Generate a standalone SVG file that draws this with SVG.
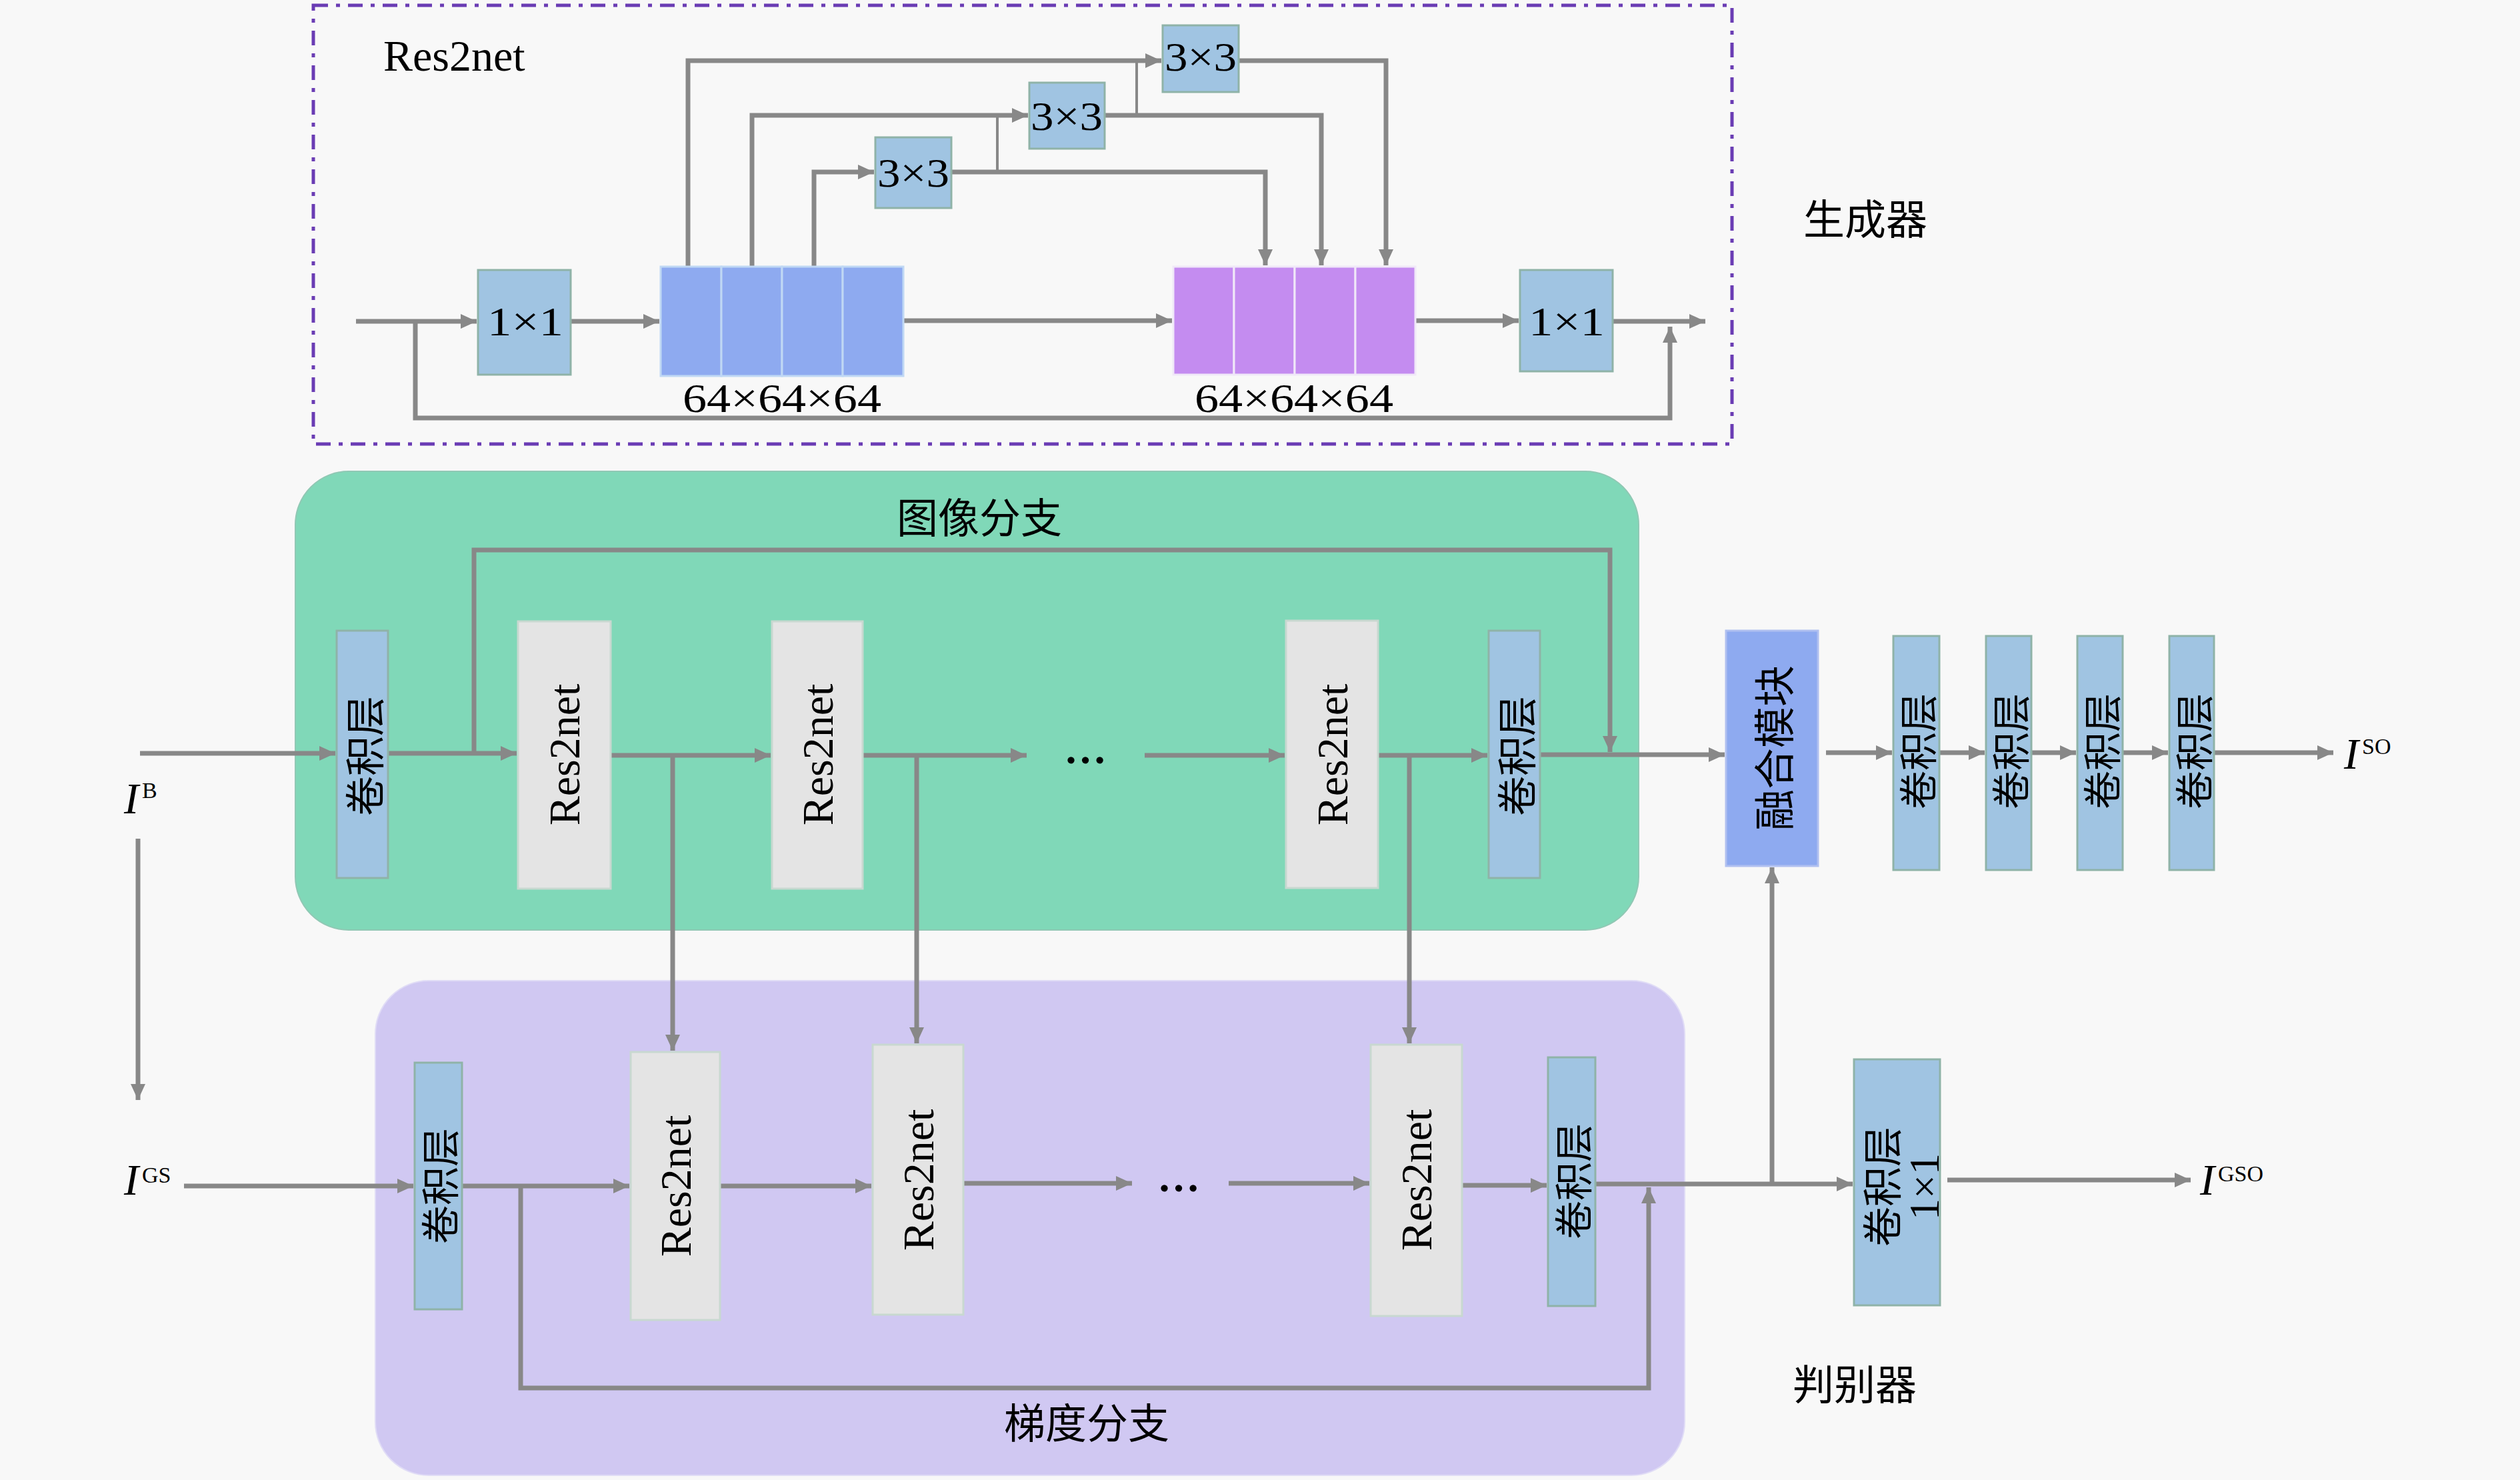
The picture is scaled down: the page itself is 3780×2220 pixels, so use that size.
<svg xmlns="http://www.w3.org/2000/svg" width="3780" height="2220" viewBox="0 0 3780 2220">
<style>
.ln{fill:none;stroke:#888;stroke-width:7}
.th{fill:none;stroke:#888;stroke-width:4}
.conv{fill:#a0c4e2;stroke:#8fb3a8;stroke-width:3}
.res{fill:#e4e4e4;stroke:#c8d8d0;stroke-width:3}
.blue{fill:#8eaaf0;stroke:#c0d8f4;stroke-width:3}
.purp{fill:#c48cf0;stroke:#f0e8f8;stroke-width:3}
.t{font-family:"Liberation Serif","Noto Sans CJK SC",serif;fill:#000}
.c{font-family:"Noto Sans CJK SC","Liberation Serif",sans-serif;fill:#000}
.m{text-anchor:middle}
.r{text-anchor:middle;dominant-baseline:central}
</style>
<defs>
<marker id="ah" markerUnits="userSpaceOnUse" markerWidth="26" markerHeight="22" refX="24" refY="11" orient="auto">
<path d="M0,0 L24,11 L0,22 z" fill="#888"/>
</marker>
</defs>
<rect width="3780" height="2220" fill="#f8f8f8"/>

<!-- panels -->
<g id="generator-box">
<rect x="470" y="8" width="2128" height="658" fill="none" stroke="#6a3cb4" stroke-width="5" stroke-dasharray="22 12 6 12"/>
<text class="t" x="575" y="106" font-size="66">Res2net</text>
</g>
<g id="image-branch">
<rect x="443" y="707" width="2015" height="688" rx="80" fill="#80d8b8" stroke="#90c8b4" stroke-width="2"/>
<text class="c m" x="1469" y="800" font-size="62">图像分支</text>
</g>
<g id="gradient-branch">
<rect x="563" y="1471" width="1964" height="742" rx="80" fill="#d0c8f2" stroke="#e0dcf6" stroke-width="2"/>
<text class="c m" x="1630" y="2158" font-size="62">梯度分支</text>
</g>
<text class="c" x="2705" y="352" font-size="62">生成器</text>
<text class="c" x="2689" y="2100" font-size="62">判别器</text>

<!-- connectors -->
<g id="connectors">
<path class="ln" d="M534,482 H715" marker-end="url(#ah)"/>
<path class="ln" d="M623,482 V627 H2505 V490" marker-end="url(#ah)"/>
<path class="ln" d="M856,482 H989" marker-end="url(#ah)"/>
<path class="ln" d="M1355,481 H1758" marker-end="url(#ah)"/>
<path class="ln" d="M2123,481 H2278" marker-end="url(#ah)"/>
<path class="ln" d="M2419,482 H2558" marker-end="url(#ah)"/>
<path class="ln" d="M1032,400 V91 H1742" marker-end="url(#ah)"/>
<path class="ln" d="M1128,400 V173 H1542" marker-end="url(#ah)"/>
<path class="ln" d="M1221,400 V258 H1311" marker-end="url(#ah)"/>
<path class="ln" d="M1427,258 H1898 V398" marker-end="url(#ah)"/>
<path class="th" d="M1496,258 V173"/>
<path class="ln" d="M1657,173 H1982 V398" marker-end="url(#ah)"/>
<path class="th" d="M1705,173 V91"/>
<path class="ln" d="M1858,91 H2079 V398" marker-end="url(#ah)"/>
<path class="ln" d="M210,1130 H503" marker-end="url(#ah)"/>
<path class="ln" d="M582,1130 H775" marker-end="url(#ah)"/>
<path class="ln" d="M711,1130 V825 H2415 V1128" marker-end="url(#ah)"/>
<path class="ln" d="M916,1133 H1156" marker-end="url(#ah)"/>
<path class="ln" d="M1294,1133 H1540" marker-end="url(#ah)"/>
<path class="ln" d="M1717,1133 H1927" marker-end="url(#ah)"/>
<path class="ln" d="M2067,1133 H2231" marker-end="url(#ah)"/>
<path class="ln" d="M2310,1132 H2587" marker-end="url(#ah)"/>
<path class="ln" d="M1009,1133 V1576" marker-end="url(#ah)"/>
<path class="ln" d="M1375,1133 V1565" marker-end="url(#ah)"/>
<path class="ln" d="M2114,1133 V1565" marker-end="url(#ah)"/>
<path class="ln" d="M2739,1129 H2838" marker-end="url(#ah)"/>
<path class="ln" d="M2909,1129 H2977" marker-end="url(#ah)"/>
<path class="ln" d="M3047,1129 H3114" marker-end="url(#ah)"/>
<path class="ln" d="M3184,1129 H3252" marker-end="url(#ah)"/>
<path class="ln" d="M3321,1129 H3500" marker-end="url(#ah)"/>
<path class="ln" d="M207,1258 V1650" marker-end="url(#ah)"/>
<path class="ln" d="M276,1779 H620" marker-end="url(#ah)"/>
<path class="ln" d="M693,1779 H944" marker-end="url(#ah)"/>
<path class="ln" d="M781,1779 V2082 H2473 V1781" marker-end="url(#ah)"/>
<path class="ln" d="M1080,1779 H1307" marker-end="url(#ah)"/>
<path class="ln" d="M1445,1775 H1698" marker-end="url(#ah)"/>
<path class="ln" d="M1843,1775 H2054" marker-end="url(#ah)"/>
<path class="ln" d="M2193,1778 H2320" marker-end="url(#ah)"/>
<path class="ln" d="M2393,1776 H2779" marker-end="url(#ah)"/>
<path class="ln" d="M2658,1776 V1301" marker-end="url(#ah)"/>
<path class="ln" d="M2921,1770 H3286" marker-end="url(#ah)"/>
</g>

<!-- Res2net detail nodes -->
<g id="conv1x1-in"><rect class="conv" x="717" y="405" width="139" height="157"/><text class="t m" x="788" y="503" font-size="62" textLength="114" lengthAdjust="spacingAndGlyphs">1×1</text></g>
<g id="split-stack">
<rect class="blue" x="991" y="400" width="91" height="164"/>
<rect class="blue" x="1082" y="400" width="91" height="164"/>
<rect class="blue" x="1173" y="400" width="91" height="164"/>
<rect class="blue" x="1264" y="400" width="91" height="164"/>
<text class="t m" x="1173" y="618" font-size="62" textLength="298" lengthAdjust="spacingAndGlyphs">64×64×64</text>
</g>
<g id="concat-stack">
<rect class="purp" x="1760" y="400" width="91" height="162"/>
<rect class="purp" x="1851" y="400" width="91" height="162"/>
<rect class="purp" x="1942" y="400" width="91" height="162"/>
<rect class="purp" x="2033" y="400" width="90" height="162"/>
<text class="t m" x="1941" y="618" font-size="62" textLength="298" lengthAdjust="spacingAndGlyphs">64×64×64</text>
</g>
<g id="conv1x1-out"><rect class="conv" x="2280" y="405" width="139" height="152"/><text class="t m" x="2350" y="503" font-size="62" textLength="114" lengthAdjust="spacingAndGlyphs">1×1</text></g>
<g id="conv3x3-a"><rect class="conv" x="1313" y="206" width="114" height="106"/><text class="t m" x="1370" y="280" font-size="62" textLength="108" lengthAdjust="spacingAndGlyphs">3×3</text></g>
<g id="conv3x3-b"><rect class="conv" x="1544" y="124" width="113" height="99"/><text class="t m" x="1600" y="195" font-size="62" textLength="108" lengthAdjust="spacingAndGlyphs">3×3</text></g>
<g id="conv3x3-c"><rect class="conv" x="1744" y="38" width="114" height="100"/><text class="t m" x="1801" y="106" font-size="62" textLength="108" lengthAdjust="spacingAndGlyphs">3×3</text></g>

<!-- image branch nodes -->
<g id="img-conv-in"><rect class="conv" x="505" y="946" width="77" height="371"/><text class="c r" font-size="60" transform="translate(543,1134) rotate(-90)">卷积层</text></g>
<g id="img-res1"><rect class="res" x="777" y="932" width="139" height="401"/><text class="t r" font-size="66" transform="translate(846,1132) rotate(-90)">Res2net</text></g>
<g id="img-res2"><rect class="res" x="1158" y="932" width="136" height="401"/><text class="t r" font-size="66" transform="translate(1226,1132) rotate(-90)">Res2net</text></g>
<text class="t m" x="1628" y="1145" font-size="64" font-weight="bold">…</text>
<g id="img-res3"><rect class="res" x="1929" y="931" width="138" height="401"/><text class="t r" font-size="66" transform="translate(1998,1132) rotate(-90)">Res2net</text></g>
<g id="img-conv-out"><rect class="conv" x="2233" y="946" width="77" height="371"/><text class="c r" font-size="60" transform="translate(2271,1134) rotate(-90)">卷积层</text></g>

<!-- fusion and output -->
<g id="fusion"><rect x="2589" y="946" width="138" height="353" fill="#8eaaf0" stroke="#b0c0f0" stroke-width="3"/><text class="c r" font-size="62" transform="translate(2658,1122) rotate(-90)">融合模块</text></g>
<g id="out-conv1"><rect class="conv" x="2840" y="954" width="69" height="351"/><text class="c r" font-size="58" transform="translate(2874,1127) rotate(-90)">卷积层</text></g>
<g id="out-conv2"><rect class="conv" x="2979" y="954" width="68" height="351"/><text class="c r" font-size="58" transform="translate(3013,1127) rotate(-90)">卷积层</text></g>
<g id="out-conv3"><rect class="conv" x="3116" y="954" width="68" height="351"/><text class="c r" font-size="58" transform="translate(3150,1127) rotate(-90)">卷积层</text></g>
<g id="out-conv4"><rect class="conv" x="3254" y="954" width="67" height="351"/><text class="c r" font-size="58" transform="translate(3288,1127) rotate(-90)">卷积层</text></g>
<g id="label-ISO"><text class="t" x="3516" y="1153" font-size="66" font-style="italic">I</text><text class="t" x="3543" y="1131" font-size="34">SO</text></g>
<g id="label-IB"><text class="t" x="186" y="1220" font-size="66" font-style="italic">I</text><text class="t" x="213" y="1197" font-size="34">B</text></g>
<g id="label-IGS"><text class="t" x="186" y="1792" font-size="66" font-style="italic">I</text><text class="t" x="213" y="1774" font-size="34">GS</text></g>
<g id="label-IGSO"><text class="t" x="3300" y="1792" font-size="66" font-style="italic">I</text><text class="t" x="3327" y="1772" font-size="34">GSO</text></g>

<!-- gradient branch nodes -->
<g id="grad-conv-in"><rect class="conv" x="622" y="1594" width="71" height="370"/><text class="c r" font-size="58" transform="translate(657,1779) rotate(-90)">卷积层</text></g>
<g id="grad-res1"><rect class="res" x="946" y="1578" width="134" height="402"/><text class="t r" font-size="66" transform="translate(1013,1779) rotate(-90)">Res2net</text></g>
<g id="grad-res2"><rect class="res" x="1309" y="1567" width="136" height="405"/><text class="t r" font-size="66" transform="translate(1377,1770) rotate(-90)">Res2net</text></g>
<text class="t m" x="1768" y="1787" font-size="64" font-weight="bold">…</text>
<g id="grad-res3"><rect class="res" x="2056" y="1567" width="137" height="407"/><text class="t r" font-size="66" transform="translate(2124,1770) rotate(-90)">Res2net</text></g>
<g id="grad-conv-out"><rect class="conv" x="2322" y="1586" width="71" height="373"/><text class="c r" font-size="58" transform="translate(2357,1772) rotate(-90)">卷积层</text></g>

<!-- discriminator -->
<g id="disc-conv"><rect class="conv" x="2781" y="1589" width="129" height="369"/>
<text class="c r" font-size="60" transform="translate(2852,1780) rotate(-90)"><tspan x="0" y="-33">卷积层</tspan></text>
<text class="t r" font-size="64" transform="translate(2852,1780) rotate(-90)"><tspan x="0" y="34">1×1</tspan></text>
</g>
</svg>
